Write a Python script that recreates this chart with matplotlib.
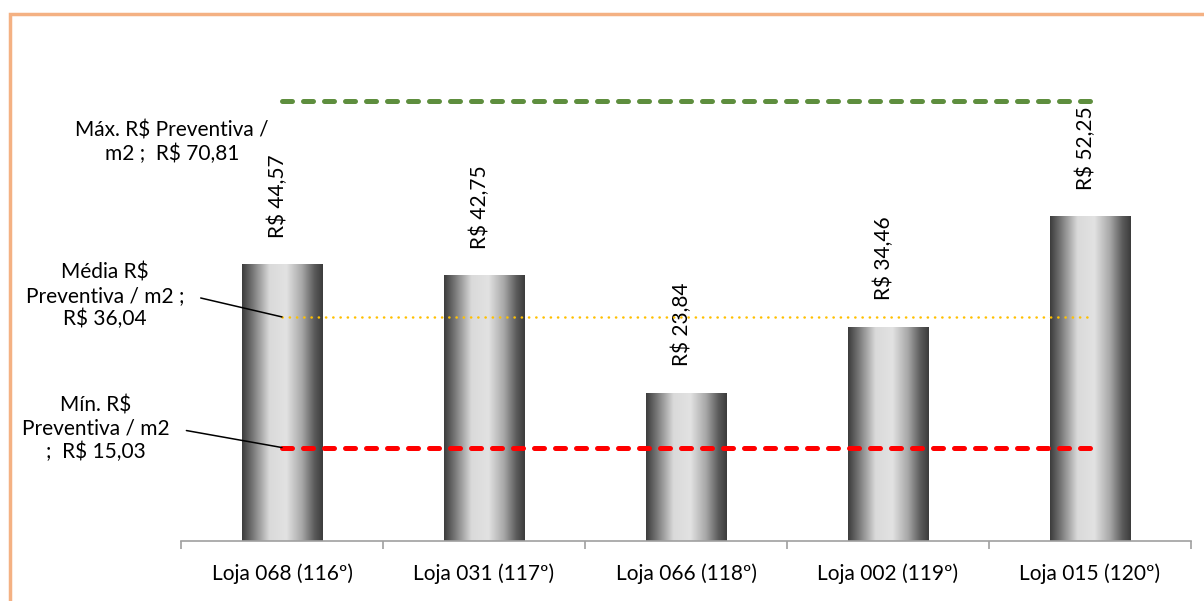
import numpy as np
import matplotlib.pyplot as plt
from matplotlib.colors import LinearSegmentedColormap
from matplotlib.patches import Rectangle

plt.rcParams['font.family'] = ['Lato', 'DejaVu Sans']

# dados
lojas = ['Loja 068 (116º)', 'Loja 031 (117º)', 'Loja 066 (118º)', 'Loja 002 (119º)', 'Loja 015 (120º)']
valores = [44.57, 42.75, 23.84, 34.46, 52.25]
maximo = 70.81
media = 36.04
minimo = 15.03

FS = 15


def brl(v):
    return 'R$ ' + f'{v:.2f}'.replace('.', ',')


fig = plt.figure(figsize=(12.04, 6.01), dpi=100)
ax = fig.add_axes([181 / 1204, 60 / 601, 1010 / 1204, 521 / 601])

x = np.arange(len(lojas))
barras = ax.bar(x, valores, width=0.4, color='none', edgecolor='none', zorder=2)

# degrade "cilindro" das colunas
cinza = LinearSegmentedColormap.from_list('cil', [
    (0.0, '#3c3c3c'), (0.14, '#7a7a7a'), (0.34, '#dadada'), (0.55, '#e2e2e2'),
    (0.74, '#a8a8a8'), (0.9, '#5a5a5a'), (1.0, '#3c3c3c')])
grad = np.linspace(0, 1, 256).reshape(1, -1)
for b in barras:
    x0, y0 = b.get_x(), b.get_y()
    w, h = b.get_width(), b.get_height()
    im = ax.imshow(grad, cmap=cinza, aspect='auto', extent=(x0, x0 + w, y0, y0 + h),
                   interpolation='bicubic', zorder=2)
    im.set_clip_path(b)

# rotulos das colunas
for xi, v in zip(x, valores):
    ax.annotate(brl(v), (xi, v), xytext=(-3, 19), textcoords='offset points',
                rotation=90, ha='center', va='bottom', fontsize=FS)

# linhas de referencia
ax.hlines(maximo, x[0], x[-1], color='#5e8e3e', lw=3.6, linestyles=(0, (2, 2.2)),
          capstyle='round', zorder=3)
ax.hlines(media, x[0], x[-1], color='#ffc000', lw=1.8, linestyles=(0, (0.1, 2.8)),
          capstyle='round', zorder=3)
ax.hlines(minimo, x[0], x[-1], color='#ff0000', lw=3.6, linestyles=(0, (2, 2.2)),
          capstyle='round', zorder=3)

# rotulos das linhas
lider = dict(arrowstyle='-', color='black', lw=1.1, relpos=(1, 0.5), shrinkA=10, shrinkB=0,
             connectionstyle='arc,angleA=0,armA=8,angleB=0,armB=0,rad=0')
ax.annotate('Máx. R$ Preventiva /\nm2 ;  R$ 70,81', (x[0], maximo),
            xytext=(172, 601 - 142), textcoords='figure pixels',
            ha='center', va='center', fontsize=FS, linespacing=1.2)
ax.annotate('Média R$\nPreventiva / m2 ;\nR$ 36,04', (x[0], media),
            xytext=(105, 601 - 296), textcoords='figure pixels',
            ha='center', va='center', fontsize=FS, linespacing=1.2, arrowprops=lider)
ax.annotate('Mín. R$\nPreventiva / m2\n;  R$ 15,03', (x[0], minimo),
            xytext=(96, 601 - 429), textcoords='figure pixels',
            ha='center', va='center', fontsize=FS, linespacing=1.2, arrowprops=lider)

ax.set_xlim(-0.5, len(lojas) - 0.5)
ax.set_ylim(0, 83.8)
ax.set_xticks(x)
ax.set_xticklabels(lojas, fontsize=FS)
ax.set_xticks(np.arange(-0.5, len(lojas)), minor=True)
ax.tick_params(axis='x', which='major', length=0, pad=16)
ax.tick_params(axis='x', which='minor', length=6, color='#a0a0a0', width=1.2, direction='out')
ax.set_yticks([])
for s in ['top', 'right', 'left']:
    ax.spines[s].set_visible(False)
ax.spines['bottom'].set_color('#a0a0a0')
ax.spines['bottom'].set_linewidth(1.2)

# moldura
fig.patches.append(Rectangle((10 / 1204, -0.1), 1.2, 1.1 - 14 / 601, transform=fig.transFigure,
                             fill=False, edgecolor='#f4b183', lw=2.5))

fig.savefig('out.png', dpi=100)
